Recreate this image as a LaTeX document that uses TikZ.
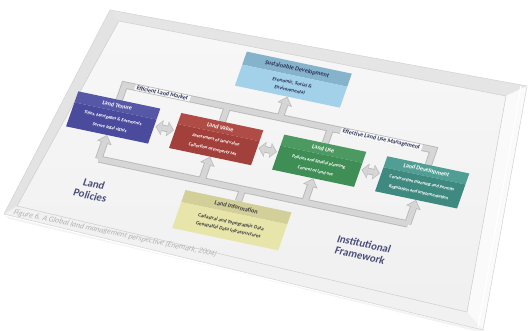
\documentclass[tikz,border=0pt]{standalone}
\usepackage{fontspec}
\setmainfont{Carlito}
\usetikzlibrary{arrows.meta}
\pgfdeclarelayer{back}
\pgfdeclarelayer{mid}
\pgfsetlayers{back,mid,main}
\definecolor{tenB}{HTML}{4A4B9C}
\definecolor{tenH}{HTML}{5657A6}
\definecolor{valB}{HTML}{A2403B}
\definecolor{valH}{HTML}{AF4C46}
\definecolor{useB}{HTML}{3E8E55}
\definecolor{useH}{HTML}{4C9A62}
\definecolor{devB}{HTML}{3F8A80}
\definecolor{devH}{HTML}{509E94}
\definecolor{susH}{HTML}{86B3CC}
\definecolor{susB}{HTML}{A3D1EA}
\definecolor{infH}{HTML}{D3CF98}
\definecolor{infB}{HTML}{E8E5AA}
\definecolor{sideT}{HTML}{4A4E78}
\definecolor{lblT}{HTML}{2F3558}
\definecolor{bandO}{HTML}{B9B9B9}
\definecolor{bandI}{HTML}{D6D6D6}
\begin{document}
\begin{tikzpicture}[x=1pt,y=-1pt,
  hdr/.style={minimum width=82, minimum height=11, inner sep=0, text=white,
    font=\fontsize{5.8}{6}\selectfont\bfseries},
  bodybox/.style={minimum width=82, minimum height=24, inner sep=0, text=white,
    align=center, font=\fontsize{4.5}{9.4}\selectfont\bfseries},
  bandout/.style={line width=7.2, draw=bandO, line join=miter},
  bandin/.style={line width=5.4, draw=bandI, line join=miter},
  tipout/.style={-{Triangle[width=15pt,length=8pt,line width=0.1pt]}},
  tipin/.style={-{Triangle[width=11.8pt,length=6.2pt,line width=0.1pt]}, shorten >=1.1pt},
  dblout/.style={line width=6.6, draw=bandO,
    {Triangle[width=15pt,length=6.5pt,line width=0.1pt]}-{Triangle[width=15pt,length=6.5pt,line width=0.1pt]}},
  dblin/.style={line width=4.8, draw=bandI, shorten >=1pt, shorten <=1pt,
    {Triangle[width=12pt,length=5pt,line width=0.1pt]}-{Triangle[width=12pt,length=5pt,line width=0.1pt]}},
  lbl/.style={fill=gray!5, inner xsep=2, inner ysep=0.6, text=lblT,
    font=\fontsize{5.8}{6}\selectfont\bfseries},
  side/.style={text=sideT, align=center, font=\fontsize{10.5}{11.5}\selectfont\bfseries},
  captext/.style={text=gray!60, font=\fontsize{7.6}{8}\selectfont\itshape, inner sep=0}
]
\useasboundingbox (0,0) rectangle (530,331);
\begin{pgfonlayer}{back}
  \fill[white] (0,0) rectangle (530,331);
  % soft shadow
  \fill[gray!30, opacity=0.3] (6,216) -- (483,333) -- (486,331) -- (9,219) -- cycle;
  % card bevels
  \coordinate (OTL) at (110,10);  \coordinate (OTR) at (527,86);
  \coordinate (OBR) at (483,330); \coordinate (OBL) at (4,214);
  \coordinate (ITL) at (119,21);  \coordinate (ITR) at (506,96);
  \coordinate (IBR) at (467,312); \coordinate (IBL) at (17,206);
  \fill[gray!20] (OTL) -- (OTR) -- (ITR) -- (ITL) -- cycle;
  \fill[gray!4] (OTR) -- (OBR) -- (IBR) -- (ITR) -- cycle;
  \fill[gray!11] (OBL) -- (OBR) -- (IBR) -- (IBL) -- cycle;
  \fill[gray!22] (OTL) -- (OBL) -- (IBL) -- (ITL) -- cycle;
  \shade[top color=gray!6, bottom color=gray!12] (ITL) -- (ITR) -- (IBR) -- (IBL) -- cycle;
  \draw[gray!40, line width=0.5] (ITL) -- (ITR) -- (IBR) -- (IBL) -- cycle;
  \draw[gray!35, line width=0.5] (OTL) -- (OTR) -- (OBR) -- (OBL) -- cycle;
  \draw[white, line width=1.2] ([xshift=-6pt]OTR) -- ([xshift=-5pt,yshift=2pt]OBR);
\end{pgfonlayer}

\begin{scope}[cm={1,-0.21,0.35,1,(110pt,-10pt)}, transform shape]
  % boxes
  \node[hdr, fill=tenH] (tenureh) at (38,87.5) {Land Tenure};
  \node[bodybox, fill=tenB] (tenure) at (38,105) {Titles, Mortgages \& Easements\\Secure legal rights};
  \node[hdr, fill=valH] (valueh) at (141,87.5) {Land Value};
  \node[bodybox, fill=valB] (value) at (141,105) {Assessment of land value\\Collection of property tax};
  \node[hdr, fill=useH] (useh) at (244,87.5) {Land Use};
  \node[bodybox, fill=useB] (use) at (244,105) {Policies and Spatial planning\\Control of land use};
  \node[hdr, fill=devH] (devh) at (347,87.5) {Land Development};
  \node[bodybox, fill=devB] (dev) at (347,105) {Construction planning and Permits\\Regulation and Implementation};
  \node[hdr, fill=susH, minimum width=105, minimum height=13, text=lblT,
        font=\fontsize{6}{7}\selectfont\bfseries] (sush) at (193.5,18.5) {Sustainable Development};
  \node[bodybox, fill=susB, minimum width=105, minimum height=21, text=lblT,
        font=\fontsize{5}{7.4}\selectfont\bfseries] (sus) at (193.5,35.5) {Economic, Social \&\\Environmental};
  \node[hdr, fill=infH, minimum width=106, minimum height=12, text=black!75,
        font=\fontsize{6}{7}\selectfont\bfseries] (infh) at (182,159) {Land Information};
  \node[bodybox, fill=infB, minimum width=106, minimum height=26, text=black!75,
        font=\fontsize{5}{7.6}\selectfont\bfseries] (inf) at (182,178) {Cadastral and Topographic Data\\Geospatial Data Infrastructures};
  % double arrow ends
  \coordinate (d1a) at (80.5,99.5);  \coordinate (d1b) at (98.5,99.5);
  \coordinate (d2a) at (183.5,99.5); \coordinate (d2b) at (201.5,99.5);
  \coordinate (d3a) at (286.5,99.5); \coordinate (d3b) at (304.5,99.5);
  % band coordinates
  \coordinate (tb1) at (38,67);  \coordinate (tb4) at (347,67);
  \coordinate (tb2) at (141,67); \coordinate (tb3) at (244,67);
  \coordinate (tbm) at (193.5,67);
  \coordinate (bb1) at (38,141);  \coordinate (bb4) at (347,141);
  \coordinate (bb2) at (141,141); \coordinate (bb3) at (244,141);
  \coordinate (bbm) at (182,141);
  \begin{pgfonlayer}{back}
    \draw[bandout] (tenureh.north) -- (tb1) -- (tb4) -- (devh.north);
    \draw[bandout] (valueh.north) -- (tb2);
    \draw[bandout] (useh.north) -- (tb3);
    \draw[bandout, tipout] (tbm) -- (sus.south);
    \draw[bandout] (bb1) -- (bb4);
    \draw[bandout] (infh.north) -- (bbm);
    \draw[bandout, tipout] (bb1) -- (tenure.south);
    \draw[bandout, tipout] (bb2) -- (value.south);
    \draw[bandout, tipout] (bb3) -- (use.south);
    \draw[bandout, tipout] (bb4) -- (dev.south);
    \draw[dblout] (d1a) -- (d1b);
    \draw[dblout] (d2a) -- (d2b);
    \draw[dblout] (d3a) -- (d3b);
  \end{pgfonlayer}
  \begin{pgfonlayer}{mid}
    \draw[bandin] (tenureh.north) -- (tb1) -- (tb4) -- (devh.north);
    \draw[bandin] (valueh.north) -- (tb2);
    \draw[bandin] (useh.north) -- (tb3);
    \draw[bandin, tipin] (tbm) -- (sus.south);
    \draw[bandin] (bb1) -- (bb4);
    \draw[bandin] (infh.north) -- (bbm);
    \draw[bandin, tipin] (bb1) -- (tenure.south);
    \draw[bandin, tipin] (bb2) -- (value.south);
    \draw[bandin, tipin] (bb3) -- (use.south);
    \draw[bandin, tipin] (bb4) -- (dev.south);
    \draw[dblin] (d1a) -- (d1b);
    \draw[dblin] (d2a) -- (d2b);
    \draw[dblin] (d3a) -- (d3b);
  \end{pgfonlayer}
  % labels
  \node[lbl] (elm) at (76,67) {Efficient Land Market};
  \node[lbl] (elum) at (295,67.5) {Effective Land Use Management};
  \node[side] (lp) at (42,171) {Land\\Policies};
  \node[side] (inst) at (313,174) {Institutional\\Framework};
  \node[captext, anchor=west] (capt) at (-24,207) {Figure 6. A Global land management perspective (Enemark, 2004)};
\end{scope}
\end{tikzpicture}
\end{document}
